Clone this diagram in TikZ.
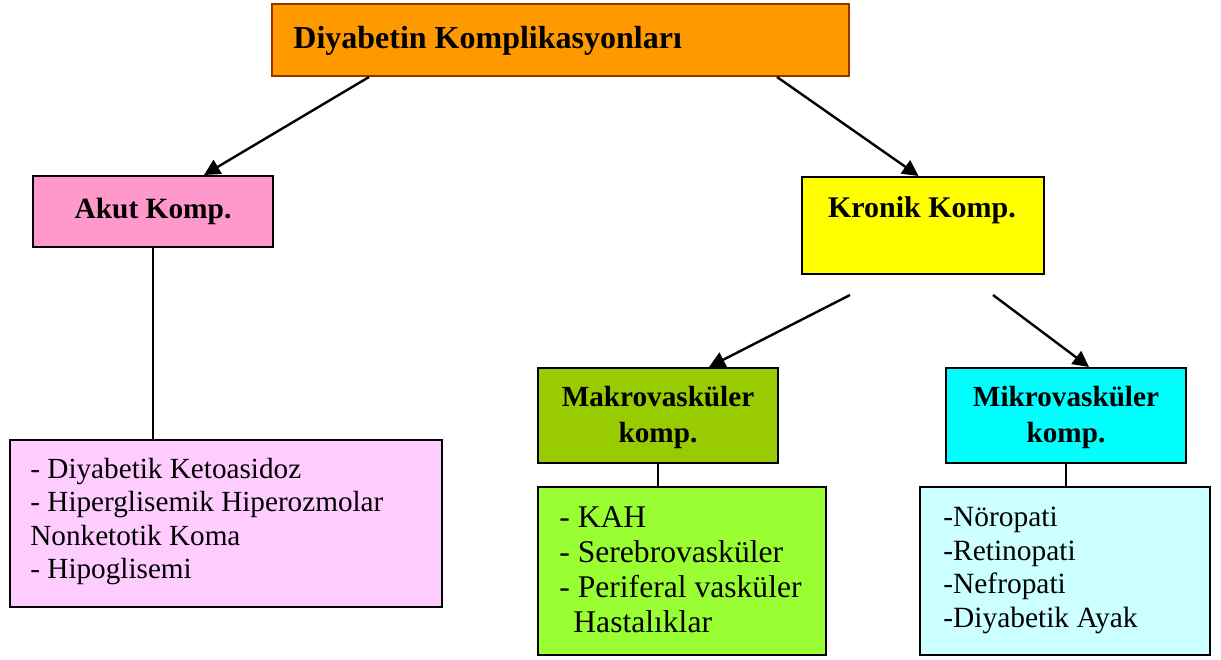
\documentclass[tikz,border=0pt]{standalone}
\usepackage{fontspec}
\setmainfont{Liberation Serif}
\usetikzlibrary{arrows.meta}
\definecolor{orng}{HTML}{FF9900}
\definecolor{orngb}{HTML}{993300}
\definecolor{pnk}{HTML}{FF99CC}
\definecolor{ylw}{HTML}{FFFF00}
\definecolor{olv}{HTML}{99CC00}
\definecolor{cyn}{HTML}{00FFFF}
\definecolor{lpnk}{HTML}{FFCCFF}
\definecolor{lgrn}{HTML}{99FF33}
\definecolor{lcyn}{HTML}{CCFFFF}
\tikzset{
  boxnode/.style={draw=black, line width=1pt, inner sep=0pt},
  arr/.style={line width=1.2pt, -{Triangle[length=8pt,width=8pt]}},
  link/.style={line width=0.8pt},
  head/.style={font=\fontsize{14.6}{18}\selectfont\bfseries, inner sep=0pt, align=center},
  listtxt/.style={font=\fontsize{14.6}{16.8}\selectfont, inner sep=0pt, align=left, anchor=west}
}
\begin{document}
\begin{tikzpicture}[x=0.5pt,y=-0.5pt]
\useasboundingbox (0,0) rectangle (1221,659);
% boxes
\node[boxnode, draw=orngb, fill=orng, minimum width=288.5pt, minimum height=36pt] (title) at (560.5,40) {};
\node[boxnode, fill=pnk, minimum width=120pt, minimum height=35.5pt] (akut) at (153,211.5) {};
\node[boxnode, fill=ylw, minimum width=121pt, minimum height=48.5pt] (kronik) at (922.5,225.5) {};
\node[boxnode, fill=olv, minimum width=120pt, minimum height=47.5pt] (makro) at (658,415.5) {};
\node[boxnode, fill=cyn, minimum width=120pt, minimum height=47.5pt] (mikro) at (1066,415.5) {};
\node[boxnode, fill=lpnk, minimum width=216pt, minimum height=83.5pt] (akutl) at (226,523.5) {};
\node[boxnode, fill=lgrn, minimum width=144pt, minimum height=84pt] (makrol) at (682,571) {};
\node[boxnode, fill=lcyn, minimum width=145pt, minimum height=84pt] (mikrol) at (1065,571) {};
% texts
\node[head, anchor=west, font=\fontsize{16}{19}\selectfont\bfseries] (titlet) at (293,41) {Diyabetin Komplikasyonları};
\node[head, font=\fontsize{14.7}{18}\selectfont\bfseries] (akutt) at (153,211) {Akut Komp.};
\node[head, font=\fontsize{15}{18}\selectfont\bfseries] (kronikt) at (922,210) {Kronik Komp.};
\node[head] (makrot) at (658,417) {Makrovasküler\\komp.};
\node[head] (mikrot) at (1066,417) {Mikrovasküler\\komp.};
\node[listtxt] (akutlt) at (30,521.5) {- Diyabetik Ketoasidoz\\- Hiperglisemik Hiperozmolar\\Nonketotik Koma\\- Hipoglisemi};
\node[listtxt, font=\fontsize{15.8}{17.5}\selectfont] (makrolt) at (559,570) {- KAH\\- Serebrovasküler\\- Periferal vasküler\\\hspace*{7pt}Hastalıklar};
\node[listtxt, font=\fontsize{14.7}{16.8}\selectfont] (mikrolt) at (943,570.5) {-Nöropati\\-Retinopati\\-Nefropati\\-Diyabetik Ayak};
% connector points
\coordinate (ts1) at ([xshift=49pt]title.south west);
\coordinate (ts2) at ([xshift=253pt]title.south west);
\coordinate (ka) at ([xshift=86pt]akut.north west);
\coordinate (kk) at ([xshift=59pt]kronik.north west);
\coordinate (ks1) at (850,295);
\coordinate (ks2) at (993,295);
\coordinate (mk) at ([xshift=86pt]makro.north west);
\coordinate (mi) at ([xshift=72pt]mikro.north west);
\draw[arr] (ts1) -- (ka);
\draw[arr] (ts2) -- (kk);
\draw[arr] (ks1) -- (mk);
\draw[arr] (ks2) -- (mi);
\draw[link] (akut.south) -- (akut.south |- akutl.north);
\draw[link] (makro.south) -- (makrol.north -| makro.south);
\draw[link] (mikro.south) -- (mikrol.north -| mikro.south);
\end{tikzpicture}
\end{document}
